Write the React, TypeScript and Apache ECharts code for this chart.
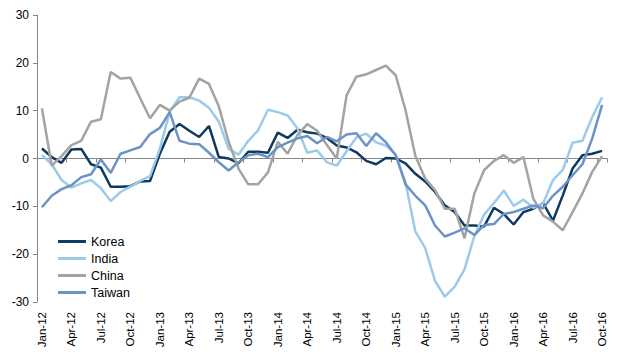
import React, { useEffect, useRef } from "react";
import * as echarts from "echarts";

const monthNames = ["Jan", "Feb", "Mar", "Apr", "May", "Jun", "Jul", "Aug", "Sep", "Oct", "Nov", "Dec"];
const years = ["12", "13", "14", "15", "16"];
const categories: string[] = [];
for (const y of years) {
  for (const m of monthNames) {
    if (y === "16" && (m === "Nov" || m === "Dec")) continue;
    categories.push(m + "-" + y);
  }
}

const korea = [2.1, 0.3, -0.9, 1.9, 2.0, -1.2, -1.9, -5.9, -5.9, -5.8, -4.8, -4.7, 1.0, 5.6, 7.2, 5.8, 4.5, 6.8, 0.3, 0,
  -1.0, 1.4, 1.4, 1.2, 5.4, 4.3, 6.0, 5.5, 5.2, 4.3, 2.7, 2.3, 1.3, -0.5, -1.2, 0.1, 0, -1.0, -3.2, -4.8,
  -7.0, -9.8, -11.2, -14.0, -14.0, -14.2, -10.3, -11.6, -13.8, -11.2, -10.5, -9.3, -13.0, -7.7, -2.1, 0.7, 1.0, 1.6];
const india = [0.7, -1.2, -4.5, -6.1, -5.2, -4.5, -6.2, -8.9, -7.0, -5.9, -4.7, -3.7, 2.0, 9.8, 12.8, 12.8, 12.1, 10.6, 7.7, 2.0,
  0.8, 3.7, 5.9, 10.2, 9.7, 9.0, 6.3, 1.2, 1.7, -0.8, -1.5, 1.5, 4.4, 5.2, 3.4, 2.7, 0.8, -5.0, -15.3, -18.7,
  -25.6, -28.9, -26.8, -23.2, -16.2, -11.7, -9.3, -6.7, -9.9, -8.6, -10.3, -9.4, -4.5, -2.4, 3.3, 3.7, 8.7, 12.8];
const china = [10.5, -1.5, 0.5, 2.8, 3.7, 7.7, 8.2, 18.1, 16.7, 16.9, 12.6, 8.4, 11.2, 10.0, 11.9, 12.7, 16.7, 15.6, 10.9, 3.5,
  -2.1, -5.4, -5.4, -2.9, 3.5, 1.0, 4.9, 7.2, 5.8, 2.8, 0, 13.2, 17.1, 17.6, 18.5, 19.4, 17.4, 10.1, 0.5, -4.2,
  -6.6, -10.5, -10.5, -16.7, -7.3, -2.4, -0.5, 0.7, -0.9, 0.3, -8.4, -11.9, -13.2, -15.0, -11.2, -7.3, -2.8, 0.5];
const taiwan = [-10.2, -7.8, -6.4, -5.6, -3.9, -3.3, -0.2, -3.0, 1.0, 1.7, 2.4, 5.1, 6.4, 9.7, 3.7, 3.1, 3.0, 1.2, -0.8, -2.5,
  -0.8, 0.7, 1.0, 0.3, 2.4, 3.3, 4.2, 4.7, 3.2, 4.5, 3.6, 5.0, 5.3, 2.6, 5.3, 3.4, 0.7, -5.4, -7.8, -9.8,
  -14.0, -16.3, -15.5, -14.6, -16.0, -13.9, -13.7, -11.6, -11.2, -10.5, -9.8, -10.4, -7.8, -5.9, -3.5, -1.2, 4.2, 11.2];

const seriesNames = ["Korea", "India", "China", "Taiwan"];
const seriesData = [korea, india, china, taiwan];
const colors = ["#0f3a5f", "#9ecae9", "#a3a3a3", "#6b93c5"];

const FONT = "'Liberation Sans', Arial, sans-serif";

export default function App() {
  const ref = useRef<HTMLDivElement>(null);
  useEffect(() => {
    if (!ref.current) return;
    const chart = echarts.init(ref.current, undefined, { renderer: "svg" });
    chart.setOption({
      animation: false,
      textStyle: { fontFamily: FONT },
      grid: { left: 37, right: 25, top: 15, bottom: 62 },
      legend: {
        orient: "vertical",
        left: 58,
        top: 235,
        padding: 0,
        itemGap: 4,
        itemWidth: 28,
        itemHeight: 3,
        icon: "rect",
        textStyle: { fontFamily: FONT, fontSize: 12.5, color: "#000", lineHeight: 13 },
        data: seriesNames,
      },
      xAxis: [
        {
          type: "category",
          data: categories,
          position: "bottom",
          boundaryGap: true,
          axisLine: { show: false, onZero: false },
          axisTick: { show: false },
          axisLabel: {
            interval: 2,
            rotate: 90,
            margin: 10,
            fontSize: 11.5,
            color: "#000",
            fontFamily: FONT,
          },
        },
        {
          type: "category",
          data: categories,
          position: "bottom",
          boundaryGap: true,
          axisLine: { show: true, onZero: true, lineStyle: { color: "#868686", width: 1 } },
          axisTick: { show: true, interval: 2, length: 4, lineStyle: { color: "#868686" } },
          axisLabel: { show: false },
        },
      ],
      yAxis: {
        type: "value",
        min: -30,
        max: 30,
        interval: 10,
        splitLine: { show: false },
        axisLine: { show: true, lineStyle: { color: "#868686", width: 1 } },
        axisTick: { show: true, length: 4, lineStyle: { color: "#868686" } },
        axisLabel: { fontSize: 12, color: "#000", margin: 8, fontFamily: FONT },
      },
      series: seriesNames.map((name, i) => ({
        name,
        type: "line",
        data: seriesData[i],
        xAxisIndex: 0,
        showSymbol: false,
        symbol: "none",
        lineStyle: { color: colors[i], width: 2.5 },
        itemStyle: { color: colors[i] },
      })),
    });
    return () => chart.dispose();
  }, []);
  return <div ref={ref} style={{ position: "absolute", left: 0, top: 0, width: 632, height: 364 }} />;
}
